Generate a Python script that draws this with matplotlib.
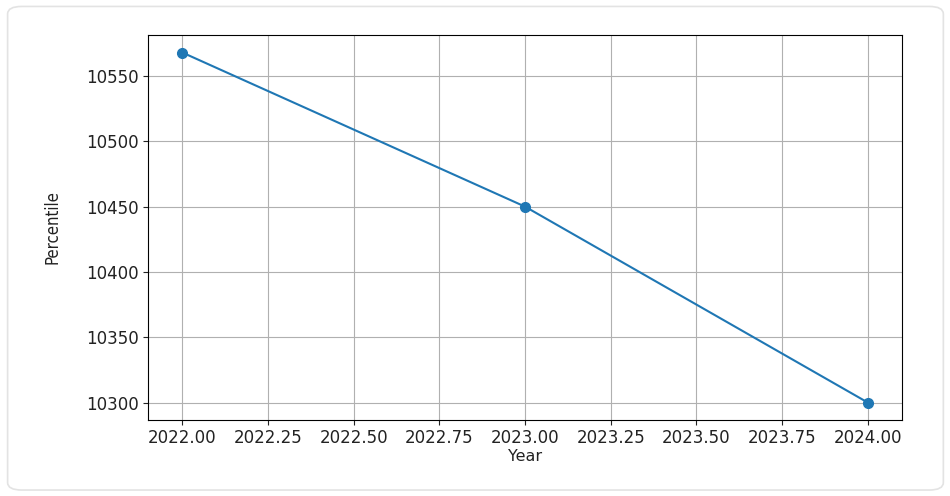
import matplotlib
matplotlib.use('Agg')
import matplotlib.pyplot as plt
from matplotlib.patches import FancyBboxPatch

# data
years = [2022, 2023, 2024]
percentile = [10568, 10450, 10300]
xticks = [2022.0, 2022.25, 2022.5, 2022.75, 2023.0, 2023.25, 2023.5, 2023.75, 2024.0]

fig = plt.figure(figsize=(9.5, 4.96), dpi=100)

# rounded card behind the plot
card = FancyBboxPatch((0.008, 0.012), 0.985, 0.975,
                      boxstyle='round,pad=0,rounding_size=0.015',
                      transform=fig.transFigure, facecolor='white',
                      edgecolor='#e3e3e3', linewidth=1.2, zorder=-5)
fig.add_artist(card)

ax = fig.add_axes([148 / 950, 1 - 420 / 496, (902 - 148) / 950, (420 - 35) / 496])
ax.plot(years, percentile, marker='o', color='#1f77b4', markersize=7, linewidth=1.5)
ax.grid(True, color='#b0b0b0', linewidth=0.8)
ax.set_xticks(xticks)
ax.set_xticklabels(['%.2f' % t for t in xticks])
ax.tick_params(labelsize=12, color='#222222', labelcolor='#222222', pad=3)
ax.set_xlabel('Year', fontsize=11.5, color='#222222')
ax.set_ylabel('Percentile', fontsize=12, fontstretch='condensed', color='#222222')
ax.xaxis.set_label_coords(0.5, -0.075)
ax.yaxis.set_label_coords(-0.115, 0.5)

fig.savefig('out.png', dpi=100)
